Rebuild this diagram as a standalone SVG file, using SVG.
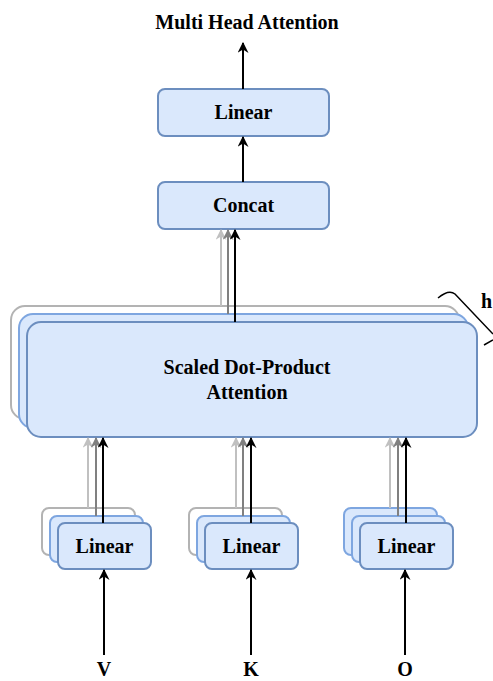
<svg xmlns="http://www.w3.org/2000/svg" width="493" height="681" viewBox="0 0 493 681">
  <style>
    .lbl { font-family: "Liberation Serif", "Times New Roman", serif; font-weight: bold; font-size: 20px; fill: #000; text-anchor: middle; }
    .main { fill: #dae8fc; stroke: #6c8ebf; stroke-width: 2; }
    .mid { fill: #dae8fc; stroke: #7ea6e0; stroke-width: 2; }
    .back { fill: #ffffff; stroke: #b3b3b3; stroke-width: 2; }
    .a-black { stroke: #000; stroke-width: 2; fill: none; }
    .a-grey { stroke: #808080; stroke-width: 2; fill: none; }
    .a-light { stroke: #c0c0c0; stroke-width: 2; fill: none; }
  </style>
  <defs>
    <marker id="hb" viewBox="0 0 10 10" refX="9" refY="5" markerWidth="5.5" markerHeight="5.5" orient="auto" markerUnits="strokeWidth">
      <path d="M0,0 L10,5 L0,10 L3,5 Z" fill="#000"/>
    </marker>
    <marker id="hg" viewBox="0 0 10 10" refX="9" refY="5" markerWidth="5.5" markerHeight="5.5" orient="auto" markerUnits="strokeWidth">
      <path d="M0,0 L10,5 L0,10 L3,5 Z" fill="#808080"/>
    </marker>
    <marker id="hl" viewBox="0 0 10 10" refX="9" refY="5" markerWidth="5.5" markerHeight="5.5" orient="auto" markerUnits="strokeWidth">
      <path d="M0,0 L10,5 L0,10 L3,5 Z" fill="#c0c0c0"/>
    </marker>
  </defs>

  <rect width="493" height="681" fill="#ffffff"/>

  <!-- title -->
  <g id="title">
    <text class="lbl" x="247" y="29">Multi Head Attention</text>
  </g>

  <!-- output linear -->
  <g id="linear-out">
    <rect class="main" x="158" y="89" width="171" height="47" rx="7"/>
    <text class="lbl" x="243.5" y="119">Linear</text>
  </g>

  <!-- concat -->
  <g id="concat">
    <rect class="main" x="158" y="182" width="171" height="47" rx="7"/>
    <text class="lbl" x="243.5" y="212">Concat</text>
  </g>

  <!-- stacked attention heads -->
  <g id="attention">
    <rect class="back" x="11" y="306" width="448" height="113" rx="14"/>
    <rect class="mid" x="19" y="314" width="449" height="114" rx="14"/>
    <rect class="main" x="27" y="322" width="450" height="115" rx="14"/>
    <text class="lbl" x="247" y="374">Scaled Dot-Product</text>
    <text class="lbl" x="247" y="399">Attention</text>
  </g>

  <!-- head count brace -->
  <g id="heads">
    <path d="M438,298 C444,293 450,290 455,294 L493,334 M484,345 L493,340" fill="none" stroke="#000" stroke-width="1.5"/>
    <text class="lbl" x="481" y="308" style="text-anchor:start">h</text>
  </g>

  <!-- V projection -->
  <g id="linear-v">
    <rect class="back" x="42" y="508" width="93" height="47" rx="7"/>
    <rect class="mid" x="50" y="516" width="93" height="46" rx="7"/>
    <rect class="main" x="58" y="523" width="93" height="46" rx="7"/>
    <text class="lbl" x="104.5" y="553">Linear</text>
  </g>

  <!-- K projection -->
  <g id="linear-k">
    <rect class="back" x="189" y="508" width="93" height="47" rx="7"/>
    <rect class="mid" x="197" y="516" width="93" height="46" rx="7"/>
    <rect class="main" x="205" y="523" width="93" height="46" rx="7"/>
    <text class="lbl" x="251.5" y="553">Linear</text>
  </g>

  <!-- O projection -->
  <g id="linear-o">
    <rect class="mid" x="344" y="508" width="93" height="47" rx="7"/>
    <rect class="mid" x="352" y="516" width="93" height="46" rx="7"/>
    <rect class="main" x="360" y="523" width="93" height="46" rx="7"/>
    <text class="lbl" x="406.5" y="553">Linear</text>
  </g>

  <!-- inputs -->
  <g id="inputs">
    <text class="lbl" x="104" y="676">V</text>
    <text class="lbl" x="251" y="676">K</text>
    <text class="lbl" x="405" y="676">O</text>
  </g>

  <!-- connectors -->
  <g id="connectors">
    <line class="a-black" x1="243" y1="89" x2="243" y2="43" marker-end="url(#hb)"/>
    <line class="a-black" x1="243" y1="182" x2="243" y2="137" marker-end="url(#hb)"/>

    <line class="a-light" x1="221" y1="306" x2="221" y2="230" marker-end="url(#hl)"/>
    <line class="a-grey" x1="228" y1="314" x2="228" y2="230" marker-end="url(#hg)"/>
    <line class="a-black" x1="235" y1="322" x2="235" y2="230" marker-end="url(#hb)"/>

    <line class="a-light" x1="88" y1="508" x2="88" y2="438" marker-end="url(#hl)"/>
    <line class="a-grey" x1="96" y1="516" x2="96" y2="438" marker-end="url(#hg)"/>
    <line class="a-black" x1="103" y1="523" x2="103" y2="438" marker-end="url(#hb)"/>

    <line class="a-light" x1="236" y1="508" x2="236" y2="438" marker-end="url(#hl)"/>
    <line class="a-grey" x1="243" y1="516" x2="243" y2="438" marker-end="url(#hg)"/>
    <line class="a-black" x1="251" y1="523" x2="251" y2="438" marker-end="url(#hb)"/>

    <line class="a-light" x1="390" y1="508" x2="390" y2="438" marker-end="url(#hl)"/>
    <line class="a-grey" x1="398" y1="516" x2="398" y2="438" marker-end="url(#hg)"/>
    <line class="a-black" x1="406" y1="523" x2="406" y2="438" marker-end="url(#hb)"/>

    <line class="a-black" x1="104" y1="655" x2="104" y2="570" marker-end="url(#hb)"/>
    <line class="a-black" x1="251" y1="655" x2="251" y2="570" marker-end="url(#hb)"/>
    <line class="a-black" x1="405" y1="655" x2="405" y2="570" marker-end="url(#hb)"/>
  </g>
</svg>
